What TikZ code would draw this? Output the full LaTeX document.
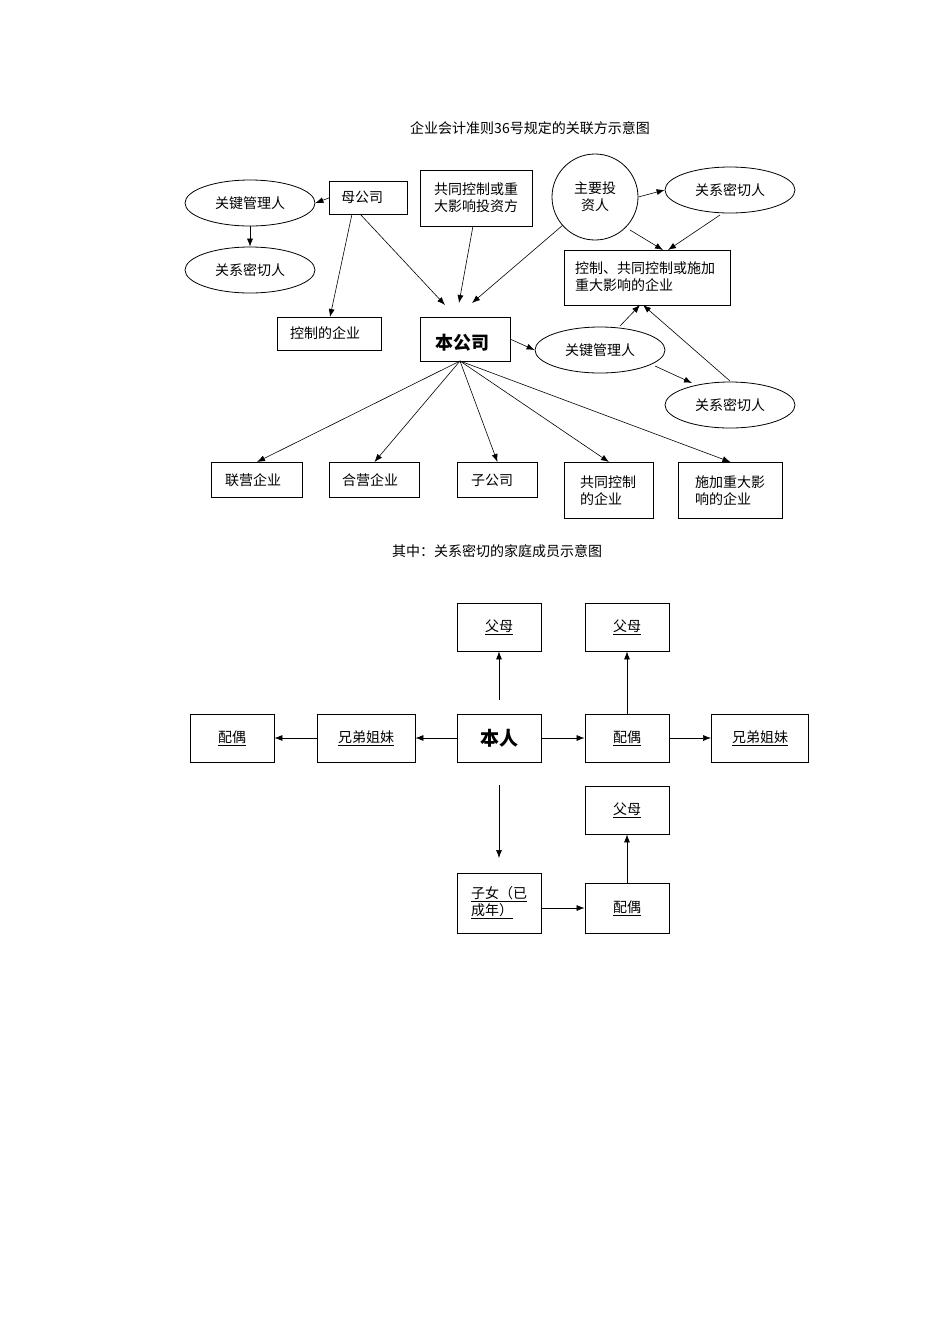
\documentclass[tikz,border=0pt]{standalone}
\usepackage{fontspec}
\setmainfont{Liberation Sans}
\newfontfamily\cjk{Noto Sans CJK SC}
\usetikzlibrary{arrows.meta,shapes.geometric}
\begin{document}
\begin{tikzpicture}[x=1pt,y=-1pt,
  font=\cjk\fontsize{14}{17}\selectfont,
  bx/.style={draw,line width=0.9pt,inner sep=0pt,anchor=north west,align=left},
  el/.style={draw,ellipse,line width=0.8pt,minimum width=130pt,minimum height=46pt,inner sep=0pt},
  ar/.style={-{Latex[length=8pt,width=6pt]},line width=0.6pt},
  fb/.style={draw,line width=0.9pt,minimum width=84pt,minimum height=48pt,inner sep=0pt}]
\useasboundingbox (0,0) rectangle (950,1318);
\node (t1) at (530,128) {企业会计准则36号规定的关联方示意图};
\node[bx,minimum width=78pt,minimum height=33pt] (mg) at (329,181) {};
\node at (362,197) {母公司};
\node[el] (k1) at (250,203) {关键管理人};
\node[el] (r1) at (250,270) {关系密切人};
\node[bx,minimum width=112pt,minimum height=56pt] (tz) at (420,170) {};
\node[align=left] at (476,198) {共同控制或重\\大影响投资方};
\node[draw,circle,line width=0.8pt,minimum size=86pt,align=center] (zy) at (595,197) {主要投\\资人};
\node[el] (r2) at (730,190) {关系密切人};
\node[bx,minimum width=166pt,minimum height=55pt] (kz) at (564,250) {};
\node[align=left] at (645,277) {控制、共同控制或施加\\重大影响的企业};
\node[bx,minimum width=104pt,minimum height=33pt] (kq) at (277,317) {};
\node at (325,333) {控制的企业};
\node[bx,minimum width=90pt,minimum height=44pt] (bg) at (420,317) {};
\node[font=\cjk\fontsize{18}{20}\selectfont\bfseries] at (462,343) {本公司};
\node[el] (k2) at (600,350) {关键管理人};
\node[el] (r3) at (730,405) {关系密切人};
\node[bx,minimum width=91pt,minimum height=35pt] (b1) at (211,462) {};
\node at (253,480) {联营企业};
\node[bx,minimum width=90pt,minimum height=35pt] (b2) at (329,462) {};
\node at (370,480) {合营企业};
\node[bx,minimum width=80pt,minimum height=35pt] (b3) at (457,462) {};
\node at (492,480) {子公司};
\node[bx,minimum width=89pt,minimum height=56pt] (b4) at (564,462) {};
\node[align=left] at (608,491) {共同控制\\的企业};
\node[bx,minimum width=104pt,minimum height=56pt] (b5) at (678,462) {};
\node[align=left] at (730,491) {施加重大影\\响的企业};
\coordinate (bgb) at (460,361);
\draw[ar] (mg.west) -- (k1.east);
\draw[ar] (k1.south) -- (r1.north);
\draw[ar] (352,214) -- (330,317);
\draw[ar] (360,214) -- (445,305);
\draw[ar] (473,226) -- (459,303);
\draw[ar] (563,225) -- (472,303);
\draw[ar] (zy.east) -- (r2.west);
\draw[ar] (630,230) -- (663,250);
\draw[ar] (720,215) -- (668,250);
\draw[ar] (bg.east) -- (k2.west);
\draw[ar] (620,326) -- (640,305);
\draw[ar] (655,366) -- (692,383);
\draw[ar] (730,381) -- (643,305);
\draw[ar] (bgb) -- (b1.north);
\draw[ar] (bgb) -- (b2.north);
\draw[ar] (bgb) -- (b3.north);
\draw[ar] (bgb) -- (b4.north);
\draw[ar] (bgb) -- (b5.north);
\node (t2) at (497,551) {其中：关系密切的家庭成员示意图};
\node[fb] (p1) at (499,627) {\underline{父母}};
\node[fb] (p2) at (627,627) {\underline{父母}};
\node[fb,font=\cjk\fontsize{19}{20}\selectfont\bfseries] (me) at (499,738) {本人};
\node[fb,minimum width=98pt] (s1) at (366,738) {\underline{兄弟姐妹}};
\node[fb] (w1) at (232,738) {\underline{配偶}};
\node[fb] (w2) at (627,738) {\underline{配偶}};
\node[fb,minimum width=97pt] (s2) at (760,738) {\underline{兄弟姐妹}};
\node[fb] (p3) at (627,810) {\underline{父母}};
\node[fb,minimum height=60pt,align=left] (ch) at (499,903) {\underline{子女（已}\\\underline{成年）}};
\node[fb,minimum height=50pt] (w3) at (627,908) {\underline{配偶}};
\coordinate (up) at (499,700);
\coordinate (dn) at (499,785);
\coordinate (dt) at (499,858);
\draw[ar] (up) -- (p1.south);
\draw[ar] (w2.north) -- (p2.south);
\draw[ar] (me.west) -- (s1.east);
\draw[ar] (s1.west) -- (w1.east);
\draw[ar] (me.east) -- (w2.west);
\draw[ar] (w2.east) -- (s2.west);
\draw[ar] (dn) -- (dt);
\draw[ar] (ch.east|-w3.west) -- (w3.west);
\draw[ar] (w3.north) -- (p3.south);
\end{tikzpicture}
\end{document}
